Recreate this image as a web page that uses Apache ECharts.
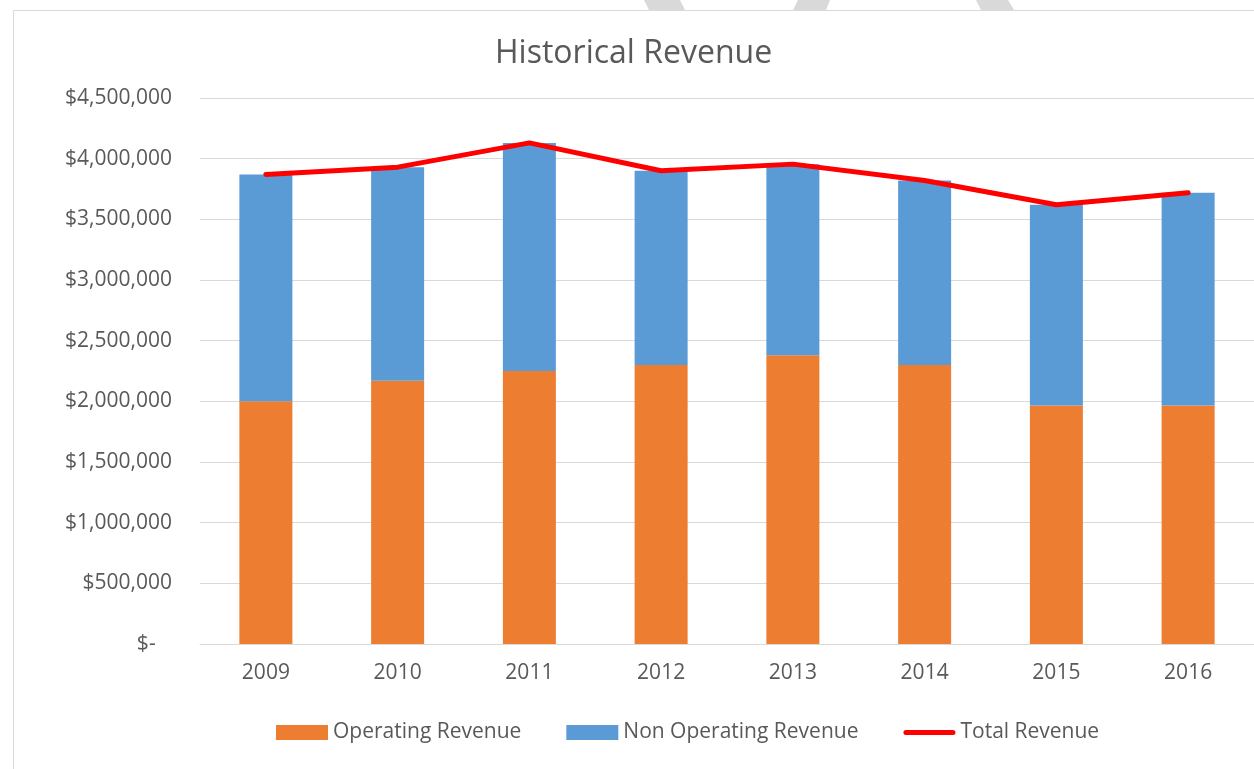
<!DOCTYPE html>
<html>
<head>
<meta charset="utf-8">
<script src="https://cdn.jsdelivr.net/npm/echarts@6/dist/echarts.min.js"></script>
<style>
  html, body { margin: 0; padding: 0; background: #ffffff; }
  #chart { width: 1254px; height: 769px; }
</style>
</head>
<body>
<div id="chart"></div>
<script>
const categories = ['2009', '2010', '2011', '2012', '2013', '2014', '2015', '2016'];
const operatingRevenue = [2000000, 2170000, 2250000, 2300000, 2380000, 2300000, 1965000, 1965000];
const nonOperatingRevenue = [1870000, 1760000, 1880000, 1600000, 1575000, 1520000, 1655000, 1755000];
const totalRevenue = [3870000, 3930000, 4130000, 3900000, 3955000, 3820000, 3620000, 3720000];
const seriesNames = ['Operating Revenue', 'Non Operating Revenue', 'Total Revenue'];
const chartTitle = 'Historical Revenue';

const FONT = '"Open Sans", "DejaVu Sans", sans-serif';
const TEXT = '#595959';
const GRID = '#d9d9d9';

const chart = echarts.init(document.getElementById('chart'), null, { renderer: 'canvas' });

chart.setOption({
  backgroundColor: '#ffffff',
  animation: false,
  graphic: [
    { type: 'rect', z: -10, silent: true,
      shape: { x: 13.5, y: 10.5, width: 1400, height: 900 },
      style: { fill: '#ffffff', stroke: GRID, lineWidth: 1 } },
    { type: 'polygon', z: -10, silent: true,
      shape: { points: [[644, 0], [680, 0], [685, 10], [649, 10]] },
      style: { fill: GRID } },
    { type: 'polygon', z: -10, silent: true,
      shape: { points: [[798, 0], [830, 0], [826, 10], [793, 10]] },
      style: { fill: GRID } },
    { type: 'polygon', z: -10, silent: true,
      shape: { points: [[976, 0], [1008, 0], [1014, 10], [981, 10]] },
      style: { fill: GRID } }
  ],
  title: {
    text: chartTitle,
    left: 490,
    top: 33,
    textStyle: { fontFamily: FONT, fontSize: 32, fontWeight: 'normal', color: TEXT }
  },
  legend: {
    left: 271,
    top: 717,
    itemWidth: 52,
    itemHeight: 15,
    itemGap: 45,
    symbolKeepAspect: true,
    textStyle: { fontFamily: FONT, fontSize: 21, color: TEXT, padding: [0, 0, 0, 0] },
    data: [
      { name: seriesNames[0], icon: 'rect' },
      { name: seriesNames[1], icon: 'rect' },
      { name: seriesNames[2], icon: 'path://M2.5 0H49.5A2.5 2.5 0 0 1 49.5 5H2.5A2.5 2.5 0 0 1 2.5 0Z' }
    ]
  },
  grid: { left: 200, right: -2, top: 98, bottom: 125, containLabel: false },
  xAxis: {
    type: 'category',
    data: categories,
    axisLine: { show: true, lineStyle: { color: GRID, width: 1 } },
    axisTick: { show: false },
    axisLabel: { fontFamily: FONT, fontSize: 21, color: TEXT, margin: 19 }
  },
  yAxis: {
    type: 'value',
    min: 0,
    max: 4500000,
    interval: 500000,
    axisLine: { show: false },
    axisTick: { show: false },
    splitLine: { lineStyle: { color: GRID, width: 1 } },
    axisLabel: {
      fontFamily: FONT, fontSize: 21, color: TEXT, margin: 28,
      formatter: function (v) {
        if (v === 0) return '$-   ';
        return '$' + v.toLocaleString('en-US');
      }
    }
  },
  series: [
    {
      name: seriesNames[0],
      type: 'bar',
      stack: 'rev',
      data: operatingRevenue,
      barWidth: 53,
      itemStyle: { color: '#ED7D31' }
    },
    {
      name: seriesNames[1],
      type: 'bar',
      stack: 'rev',
      data: nonOperatingRevenue,
      barWidth: 53,
      itemStyle: { color: '#5B9BD5' }
    },
    {
      name: seriesNames[2],
      type: 'line',
      data: totalRevenue,
      symbol: 'none',
      lineStyle: { color: '#FF0000', width: 5, cap: 'round', join: 'round' },
      itemStyle: { color: '#FF0000' },
      z: 5
    }
  ]
});
</script>
</body>
</html>
